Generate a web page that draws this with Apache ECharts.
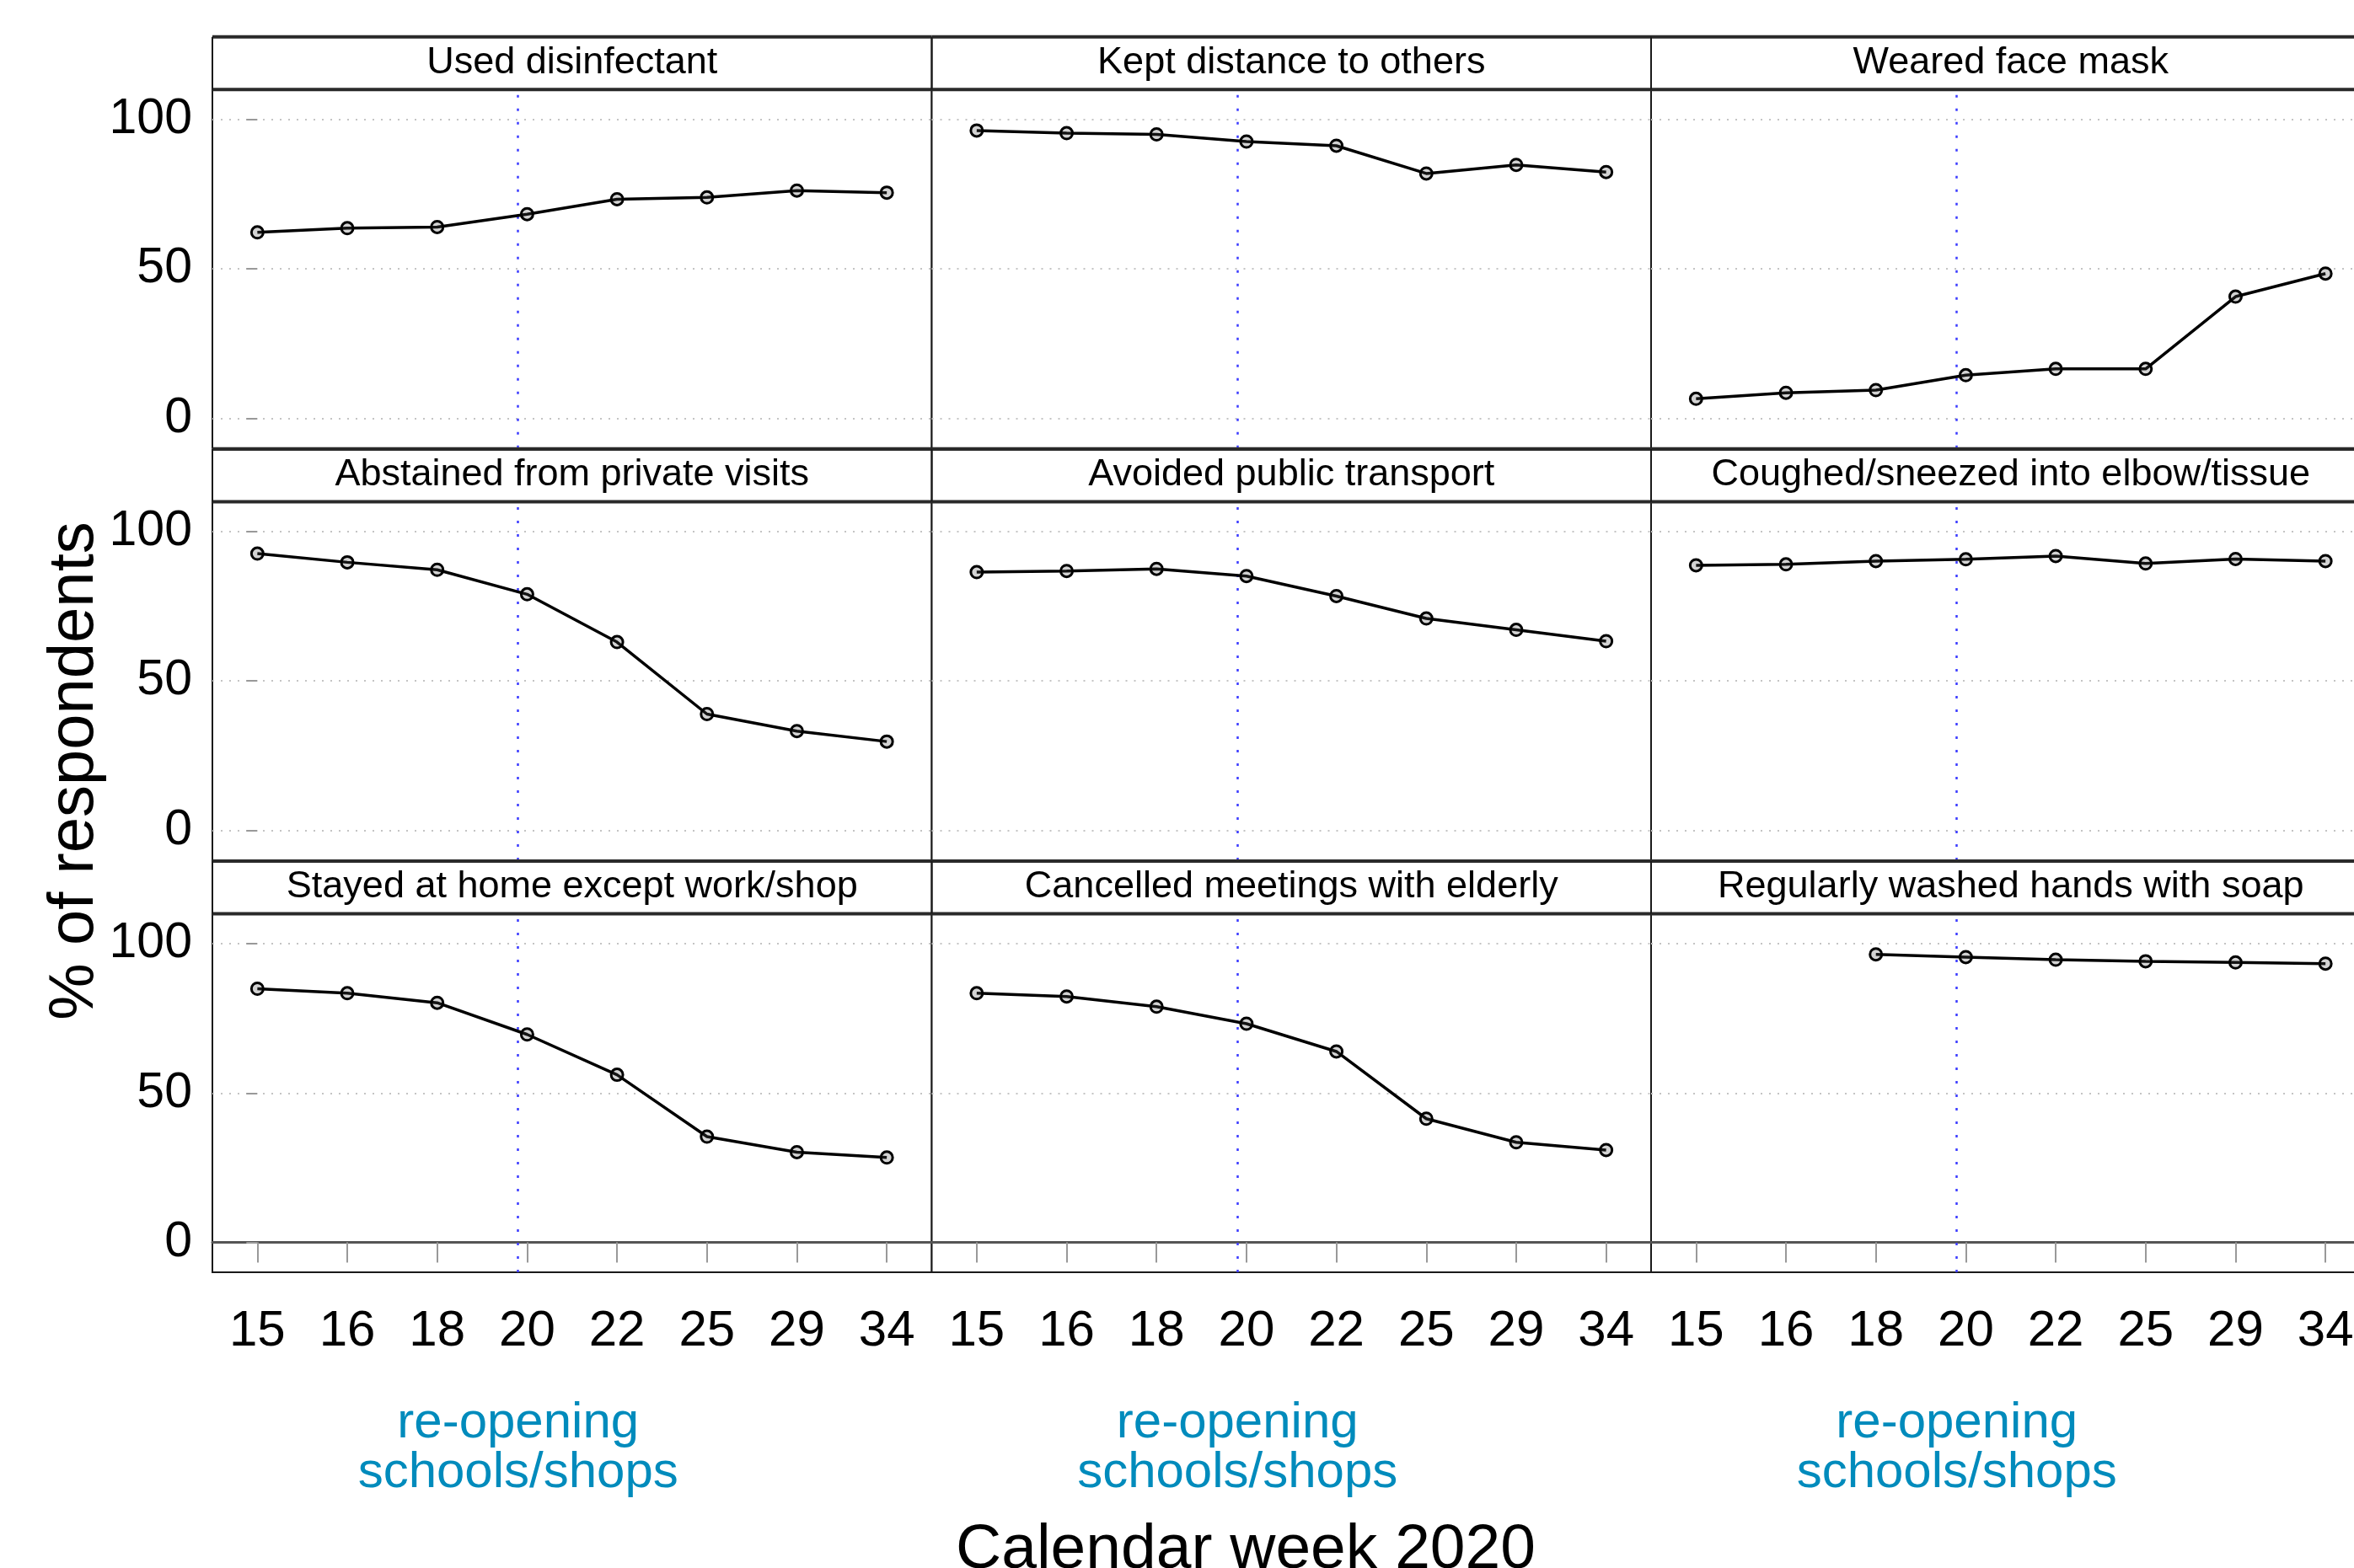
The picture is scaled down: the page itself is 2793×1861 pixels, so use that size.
<!DOCTYPE html>
<html><head><meta charset="utf-8">
<script src="https://cdn.jsdelivr.net/npm/echarts@6/dist/echarts.min.js"></script>
<style>html,body{margin:0;padding:0;background:#fff;overflow:hidden;width:2793px;height:1861px}#c{width:2830px;height:1861px}</style>
</head><body><div id="c"></div>
<script>
// ---------------- data ----------------
const weeks = ['15','16','18','20','22','25','29','34'];
const panelTitles = [
  'Used disinfectant','Kept distance to others','Weared face mask',
  'Abstained from private visits','Avoided public transport','Coughed/sneezed into elbow/tissue',
  'Stayed at home except work/shop','Cancelled meetings with elderly','Regularly washed hands with soap'
];
const usedDisinfectant = [62.2,63.6,64.0,68.3,73.3,73.9,76.2,75.5];
const keptDistance     = [96.3,95.4,95.0,92.6,91.2,81.9,84.8,82.4];
const woreFaceMask     = [6.5,8.5,9.4,14.4,16.5,16.5,40.7,48.4];
const abstainedVisits  = [92.6,89.7,87.2,79.0,63.0,38.9,33.2,29.7];
const avoidedTransport = [86.4,86.8,87.5,85.1,78.4,70.9,67.1,63.3];
const coughedElbow     = [88.7,89.0,90.1,90.7,91.8,89.3,90.8,90.1];
const stayedHome       = [84.9,83.4,80.2,69.6,56.1,35.4,30.2,28.4];
const cancelledElderly = [83.4,82.3,78.9,73.2,63.9,41.4,33.5,30.9];
const washedHands      = [null,null,96.4,95.5,94.6,94.1,93.7,93.3];
const yTickValues = [0,50,100];
const reopeningPos = 2.9;   // re-opening of schools/shops, between week 18 and week 20 (category index)
const reopeningLabel = 're-opening\nschools/shops';
const xTitle = 'Calendar week 2020';
const yTitle = '% of respondents';

const seriesValues = [usedDisinfectant, keptDistance, woreFaceMask,
  abstainedVisits, avoidedTransport, coughedElbow,
  stayedHome, cancelledElderly, washedHands];

// ---------------- layout ----------------
const FONT = '"Liberation Sans", Arial, sans-serif';
const colLeft = [252, 1105.5, 1959];
const panelW = 853.5;
const rowTop = [106.3, 595.4, 1084.5];
const plotH = 425.5;
const stripH = 62.5;

const chart = echarts.init(document.getElementById('c'), null, {renderer: 'canvas'});

const grids = [], xAxes = [], yAxes = [], series = [], graphics = [];
for (let i = 0; i < 9; i++) {
  const r = Math.floor(i / 3), c = i % 3;
  grids.push({left: colLeft[c], top: rowTop[r], width: panelW, height: plotH,
    show: true, borderColor: '#1a1a1a', borderWidth: 2, backgroundColor: '#fff', containLabel: false});
}
for (let i = 0; i < 9; i++) {
  const r = Math.floor(i / 3);
  const bottom = r === 2;
  xAxes.push({
    type: 'category', gridIndex: i, data: weeks, boundaryGap: true,
    axisLine: {show: bottom, lineStyle: {color: '#555', width: 3}},
    axisTick: {show: bottom, alignWithLabel: true, length: 24, lineStyle: {color: '#999', width: 2}},
    axisLabel: {show: bottom, fontSize: 60, color: '#000', fontFamily: FONT, margin: 40},
    splitLine: {show: false}
  });
}
for (let i = 0; i < 9; i++) {
  // hidden value axis spanning the same bands, used to place the re-opening line
  xAxes.push({type: 'value', gridIndex: i, min: -0.5, max: 7.5, show: false, splitLine: {show: false}});
}
for (let i = 0; i < 9; i++) {
  const first = i % 3 === 0;
  yAxes.push({
    type: 'value', gridIndex: i, min: -10, max: 110,
    axisLine: {show: false},
    axisTick: {show: first, length: 13, lineStyle: {color: '#999', width: 2}, customValues: yTickValues},
    axisLabel: {show: first, fontSize: 59, color: '#000', fontFamily: FONT, margin: 24,
      padding: [10, 0, 0, 0], customValues: yTickValues},
    splitLine: {show: true, lineStyle: {color: '#c4c4c4', width: 2, type: [2, 8]}}
  });
}
for (let i = 0; i < 9; i++) {
  series.push({
    type: 'line', xAxisIndex: 9 + i, yAxisIndex: i, data: [], silent: true,
    markLine: {
      silent: true, symbol: ['none', 'none'], label: {show: false}, animation: false,
      lineStyle: {color: '#3b3bff', width: 2.5, type: [3, 13]},
      data: [{xAxis: reopeningPos}]
    }
  });
  series.push({
    type: 'line', xAxisIndex: i, yAxisIndex: i, data: seriesValues[i],
    connectNulls: false, symbol: 'circle', symbolSize: 14, showSymbol: true,
    lineStyle: {color: '#000', width: 3.5},
    itemStyle: {color: 'rgba(80,80,80,0.25)', borderColor: '#000', borderWidth: 3},
    z: 5
  });
}

chart.setOption({
  animation: false,
  backgroundColor: '#fff',
  textStyle: {fontFamily: FONT},
  grid: grids, xAxis: xAxes, yAxis: yAxes, series: series
});

// strips (panel headers)
for (let i = 0; i < 9; i++) {
  const r = Math.floor(i / 3), c = i % 3;
  const x = colLeft[c], y = rowTop[r] - stripH;
  graphics.push({type: 'rect', shape: {x: x, y: y, width: panelW, height: stripH},
    style: {fill: '#fff', stroke: null}, z: 10});
  graphics.push({type: 'line', shape: {x1: x, y1: y, x2: x + panelW, y2: y},
    style: {stroke: '#2a2a2a', lineWidth: 4}, z: 12});
  graphics.push({type: 'line', shape: {x1: x, y1: y + stripH, x2: x + panelW, y2: y + stripH},
    style: {stroke: '#2a2a2a', lineWidth: 4}, z: 12});
  graphics.push({type: 'line', shape: {x1: x, y1: y, x2: x, y2: y + stripH},
    style: {stroke: '#1a1a1a', lineWidth: 2}, z: 12});
  graphics.push({type: 'line', shape: {x1: x + panelW, y1: y, x2: x + panelW, y2: y + stripH},
    style: {stroke: '#1a1a1a', lineWidth: 2}, z: 12});
  graphics.push({type: 'text', x: x + panelW / 2, y: y + 31, z: 13,
    style: {text: panelTitles[i], fontSize: 45, fontFamily: FONT, fill: '#000', align: 'center', verticalAlign: 'middle'}});
}
// re-opening annotations under each column
for (let c = 0; c < 3; c++) {
  const px = chart.convertToPixel({xAxisIndex: 9 + 6 + c}, reopeningPos);
  graphics.push({type: 'text', x: px, y: 1719, z: 13,
    style: {text: reopeningLabel, fontSize: 60, lineHeight: 59, fontFamily: FONT, fill: '#008bbc', align: 'center', verticalAlign: 'middle'}});
}
// axis titles
graphics.push({type: 'text', x: 1478, y: 1840, z: 13,
  style: {text: xTitle, fontSize: 75, fontFamily: FONT, fill: '#000', align: 'center', verticalAlign: 'middle'}});
graphics.push({type: 'text', x: 89, y: 915, rotation: Math.PI / 2, z: 13,
  style: {text: yTitle, fontSize: 76, fontFamily: FONT, fill: '#000', align: 'center', verticalAlign: 'middle'}});

chart.setOption({graphic: graphics});
</script></body></html>
